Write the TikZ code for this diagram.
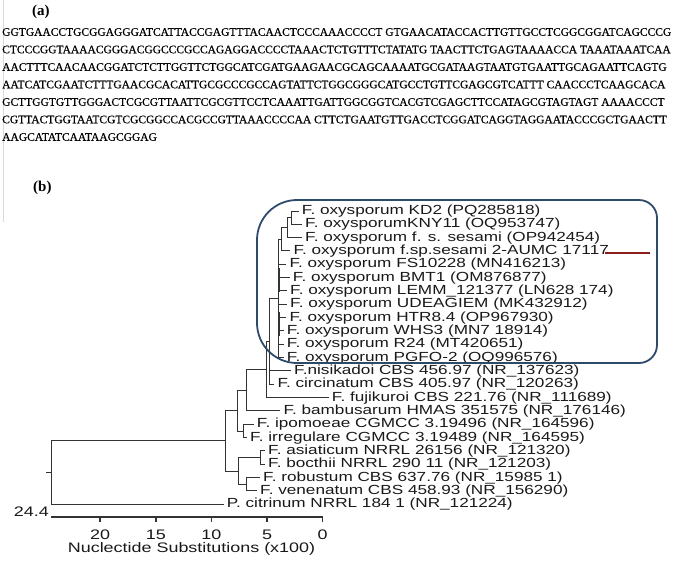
\documentclass[tikz,border=0pt]{standalone}
\usepackage{fontspec}
\setmainfont{Liberation Serif}
\newfontfamily\seqfont[FakeBold=0.5]{Liberation Serif}
\newfontfamily\treefont[FakeStretch=1.3]{Liberation Sans}
\usetikzlibrary{calc}

\definecolor{treeline}{HTML}{333333}
\definecolor{boxblue}{HTML}{2E4A6A}
\definecolor{markred}{HTML}{8B1C1C}

\begin{document}
\begin{tikzpicture}[x=1pt,y=-1pt,
  seqline/.style={anchor=west, inner sep=0pt, font=\seqfont\fontsize{11.5}{13}\selectfont},
  panel/.style={anchor=west, inner sep=0pt, font=\fontsize{15}{17}\selectfont\bfseries},
  leaf/.style={anchor=west, inner sep=3pt, text=black!90, font=\treefont\fontsize{13.2}{15}\selectfont},
  branch/.style={draw=treeline, line width=1pt},
  scalebar/.style={draw=treeline, line width=1.5pt},
  scalefont/.style={inner sep=0pt, text=black!90, font=\treefont\fontsize{13.8}{16}\selectfont}]

\useasboundingbox (0,0) rectangle (676,560);
\draw[black!15, line width=1pt] (3,0) -- (3,222);

\node[panel] (pa) at (32,12) {(a)};
\foreach \s [count=\i from 0] in {
  GGTGAACCTGCGGAGGGATCATTACCGAGTTTACAACTCCCAAACCCCT GTGAACATACCACTTGTTGCCTCGGCGGATCAGCCCG,
  CTCCCGGTAAAACGGGACGGCCCGCCAGAGGACCCCTAAACTCTGTTTCTATATG TAACTTCTGAGTAAAACCA TAAATAAATCAA,
  AACTTTCAACAACGGATCTCTTGGTTCTGGCATCGATGAAGAACGCAGCAAAATGCGATAAGTAATGTGAATTGCAGAATTCAGTG,
  AATCATCGAATCTTTGAACGCACATTGCGCCCGCCAGTATTCTGGCGGGCATGCCTGTTCGAGCGTCATTT CAACCCTCAAGCACA,
  GCTTGGTGTTGGGACTCGCGTTAATTCGCGTTCCTCAAATTGATTGGCGGTCACGTCGAGCTTCCATAGCGTAGTAGT AAAACCCT,
  CGTTACTGGTAATCGTCGCGGCCACGCCGTTAAACCCCAA CTTCTGAATGTTGACCTCGGATCAGGTAGGAATACCCGCTGAACTT,
  AAGCATATCAATAAGCGGAG}
  \node[seqline] (seq\i) at (2,32+17.5*\i) {\s};
\node[panel] (pb) at (33,188) {(b)};

\foreach \n/\x/\t [count=\i from 0] in {
  kd2/298.7/{F. oxysporum KD2 (PQ285818)},
  kny/302/{F. oxysporumKNY11 (OQ953747)},
  ses/302/{F. oxysporum f. s. sesami (OP942454)},
  aumc/290.3/{F. oxysporum f.sp.sesami 2-AUMC 17117},
  fs/286.3/{F. oxysporum FS10228 (MN416213)},
  bmt/289.7/{F. oxysporum BMT1 (OM876877)},
  lemm/287/{F. oxysporum LEMM\_121377 (LN628 174)},
  udea/287/{F. oxysporum UDEAGIEM (MK432912)},
  htr/286.3/{F. oxysporum HTR8.4 (OP967930)},
  whs/283.7/{F. oxysporum WHS3 (MN7 18914)},
  rtf/283.7/{F. oxysporum R24 (MT420651)},
  pgfo/283.7/{F. oxysporum PGFO-2 (OQ996576)},
  nisi/291/{F.nisikadoi CBS 456.97 (NR\_137623)},
  circ/274.3/{F. circinatum CBS 405.97 (NR\_120263)},
  fuj/328.7/{F. fujikuroi CBS 221.76 (NR\_111689)},
  bamb/280.3/{F. bambusarum HMAS 351575 (NR\_176146)},
  ipom/253.7/{F. ipomoeae CGMCC 3.19496 (NR\_164596)},
  irreg/247/{F. irregulare CGMCC 3.19489 (NR\_164595)},
  asia/265/{F. asiaticum NRRL 26156 (NR\_121320)},
  boc/265/{F. bocthii NRRL 290 11 (NR\_121203)},
  rob/260/{F. robustum CBS 637.76 (NR\_15985 1)},
  ven/257/{F. venenatum CBS 458.93 (NR\_156290)},
  citr/223.7/{P. citrinum NRRL 184 1 (NR\_121224)}}
  \node[leaf] (\n) at (\x,211+13.33*\i) {\t};

\coordinate (root) at (51.7,472.5);
\coordinate (rootstem) at (45.5,472.5);
\coordinate (f0) at (225,440.7);
\coordinate (nA) at (237,410.5);
\coordinate (nA1) at (246.7,390);
\coordinate (nC) at (266.7,369.8);
\coordinate (nH) at (269.5,341.7);
\coordinate (nI) at (278,298.7);
\coordinate (nJ) at (281.7,239.5);
\coordinate (nK) at (287.3,227.7);
\coordinate (nL) at (291.7,217.7);
\coordinate (nIP) at (243,431);
\coordinate (nB) at (238,471);
\coordinate (nAB) at (260,457.7);
\coordinate (nRV) at (246.7,484.3);

\foreach \p/\c in {root/f0, root/citr, f0/nA, f0/nB, nA/nA1, nA/nIP,
  nA1/nC, nA1/bamb, nC/nH, nC/fuj, nH/nI, nH/nisi, nH/circ,
  nI/nJ, nI/fs, nI/bmt, nI/lemm, nI/udea, nI/htr, nI/whs, nI/rtf, nI/pgfo,
  nJ/nK, nJ/aumc, nK/nL, nK/ses, nL/kd2, nL/kny,
  nIP/ipom, nIP/irreg, nB/nAB, nB/nRV, nAB/asia, nAB/boc, nRV/rob, nRV/ven}
  \draw[branch] (\p) |- (\c);
\draw[branch] (root) -- (rootstem);
\draw[branch, line width=2.6pt] (278.8,268) -- (278.8,292);
\draw[branch, line width=2.6pt] (278.8,312) -- (278.8,336);

\draw[boxblue, line width=1.8pt] (257,280) [rounded corners=40pt] -- (257,200)
  [rounded corners=18pt] -- (657,200) -- (657,363) [rounded corners=40pt] -- (257,363) -- cycle;

\coordinate (mk0) at (605,253);
\coordinate (mk1) at (650,253);
\draw[markred, line width=2.6pt] (mk0) -- (mk1);

\coordinate (ax0) at (51.1,517);
\coordinate (ax1) at (322.7,517);
\draw[scalebar] (ax0) -- (ax1);
\foreach \v in {0,5,10,15,20} {
  \draw[scalebar] ($(ax1)+(-11.13*\v,0)$) -- ++(0,5);
  \node[scalefont] (tick\v) at ($(ax1)+(-11.13*\v,18)$) {\v};
}
\node[scalefont, anchor=east] (scalemax) at ($(ax0)+(-2,-5)$) {24.4};
\node[scalefont] (scaletitle) at (191.5,549) {Nuclectide Substitutions (x100)};
\end{tikzpicture}
\end{document}
